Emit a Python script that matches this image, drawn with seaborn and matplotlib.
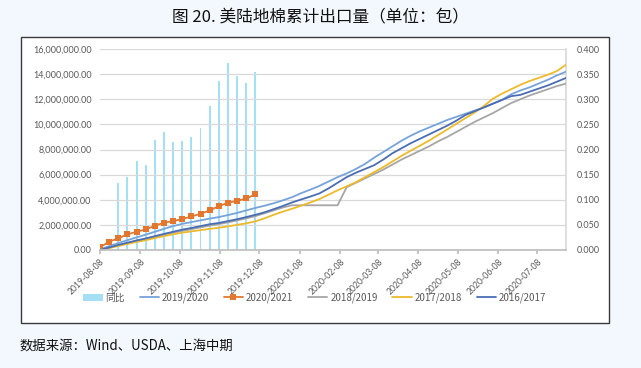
import pandas as pd
import seaborn as sns
import matplotlib.pyplot as plt
import matplotlib.dates as mdates
from matplotlib.patches import Rectangle
from matplotlib.ticker import FuncFormatter
import numpy as np

sns.set_theme(style='white')
plt.rcParams['font.family'] = ['Noto Sans CJK SC', 'DejaVu Sans']

# weekly points starting 2019-08-08 (52 weeks)
weeks = pd.date_range('2019-08-08', periods=52, freq='7D')
month_ticks = pd.to_datetime(['2019-08-08', '2019-09-08', '2019-10-08', '2019-11-08',
                              '2019-12-08', '2020-01-08', '2020-02-08', '2020-03-08',
                              '2020-04-08', '2020-05-08', '2020-06-08', '2020-07-08'])

# cumulative exports, million bales
s2019_2020 = [0.05, 0.30, 0.55, 0.78, 1.00, 1.22, 1.45, 1.68, 1.90, 2.08,
              2.22, 2.36, 2.50, 2.62, 2.78, 2.95, 3.15, 3.35, 3.52, 3.72,
              3.95, 4.20, 4.52, 4.80, 5.10, 5.45, 5.80, 6.10, 6.45, 6.85,
              7.35, 7.80, 8.25, 8.70, 9.10, 9.45, 9.75, 10.05, 10.35, 10.60,
              10.85, 11.10, 11.35, 11.65, 11.95, 12.40, 12.70, 12.95, 13.25, 13.55,
              13.90, 14.20]
s2016_2017 = [0.00, 0.20, 0.40, 0.58, 0.76, 0.92, 1.10, 1.28, 1.45, 1.62,
              1.75, 1.90, 2.05, 2.15, 2.30, 2.45, 2.62, 2.80, 3.00, 3.25,
              3.50, 3.78, 4.02, 4.25, 4.50, 4.90, 5.35, 5.80, 6.15, 6.45,
              6.75, 7.20, 7.70, 8.10, 8.50, 8.85, 9.20, 9.55, 9.90, 10.30,
              10.75, 11.05, 11.35, 11.65, 11.95, 12.25, 12.35, 12.60, 12.85, 13.10,
              13.40, 13.70]
s2017_2018 = [0.00, 0.15, 0.32, 0.48, 0.64, 0.78, 0.95, 1.10, 1.25, 1.38,
              1.48, 1.58, 1.68, 1.77, 1.88, 2.00, 2.12, 2.28, 2.52, 2.80,
              3.05, 3.28, 3.52, 3.78, 4.05, 4.40, 4.75, 5.07, 5.40, 5.80,
              6.20, 6.60, 7.05, 7.50, 7.90, 8.30, 8.70, 9.15, 9.60, 10.05,
              10.50, 10.95, 11.45, 12.05, 12.45, 12.80, 13.15, 13.45, 13.70, 13.95,
              14.25, 14.75]
s2018_2019 = [0.00, 0.18, 0.36, 0.54, 0.72, 0.88, 1.05, 1.22, 1.38, 1.52,
              1.66, 1.80, 1.94, 2.06, 2.20, 2.35, 2.52, 2.70, 2.92, 3.15,
              3.38, 3.56, 3.56, 3.56, 3.56, 3.56, 3.56, 5.00, 5.35, 5.70,
              6.05, 6.40, 6.80, 7.20, 7.55, 7.90, 8.25, 8.65, 9.00, 9.40,
              9.80, 10.20, 10.55, 10.90, 11.30, 11.70, 12.00, 12.30, 12.55, 12.80,
              13.05, 13.25]
s2020_2021 = [0.21, 0.66, 0.93, 1.24, 1.45, 1.64, 1.93, 2.17, 2.30, 2.46,
              2.67, 2.88, 3.15, 3.49, 3.76, 3.91, 4.10, 4.42]
# year-on-year ratio (right axis)
yoy = [np.nan, np.nan, 0.133, 0.146, 0.177, 0.170, 0.219, 0.235, 0.214, 0.217,
       0.224, 0.243, 0.287, 0.337, 0.372, 0.347, 0.333, 0.355]

bg = '#F3F8FE'
fig = plt.figure(figsize=(6.41, 3.68), dpi=100, facecolor=bg)
fig.patches.append(Rectangle((0.0328, 0.1223), 0.917, 0.777, transform=fig.transFigure,
                             facecolor='white', edgecolor='#3a3a3a', lw=1.0, zorder=-5))

ax = fig.add_axes([0.156, 0.3207, 0.727, 0.546])
ax2 = ax.twinx()
ax.set_zorder(ax2.get_zorder() + 1)
ax.patch.set_visible(False)
ax2.patch.set_visible(False)

# bars on right axis
ax2.bar(weeks[:len(yoy)], yoy, width=1.5, color='#A4DFF6', edgecolor='none',
        linewidth=0, label='同比')

df = pd.DataFrame({'date': weeks, '2019/2020': np.array(s2019_2020) * 1e6,
                   '2018/2019': np.array(s2018_2019) * 1e6,
                   '2017/2018': np.array(s2017_2018) * 1e6,
                   '2016/2017': np.array(s2016_2017) * 1e6})
df21 = pd.DataFrame({'date': weeks[:len(s2020_2021)], 'v': np.array(s2020_2021) * 1e6})

sns.lineplot(data=df, x='date', y='2019/2020', ax=ax, color='#76A3DA', lw=1.3, label='2019/2020')
sns.lineplot(data=df21, x='date', y='v', ax=ax, color='#E4772F', lw=1.3, marker='s',
             markersize=4.8, markeredgewidth=0, label='2020/2021')
sns.lineplot(data=df, x='date', y='2018/2019', ax=ax, color='#A6A6A6', lw=1.3, label='2018/2019')
sns.lineplot(data=df, x='date', y='2017/2018', ax=ax, color='#EDBA2C', lw=1.3, label='2017/2018')
sns.lineplot(data=df, x='date', y='2016/2017', ax=ax, color='#4A6DB3', lw=1.3, label='2016/2017')

ax.set_xlim(weeks[0], weeks[-1])
ax.set_ylim(0, 16e6)
ax2.set_ylim(0, 0.4)
ax.set_yticks(np.arange(0, 16e6 + 1, 2e6))
ax2.set_yticks(np.arange(0, 0.401, 0.05))
ax.yaxis.set_major_formatter(FuncFormatter(lambda v, p: f'{v:,.2f}'))
ax2.yaxis.set_major_formatter(FuncFormatter(lambda v, p: f'{v:.3f}'))
ax.set_xticks(month_ticks)
ax.xaxis.set_major_formatter(mdates.DateFormatter('%Y-%m-%d'))
ax.set_xlabel('')
ax.set_ylabel('')
ax.grid(axis='y', color='#D9D9D9', lw=0.9)
ax.set_axisbelow(True)

for a in (ax, ax2):
    for s in a.spines.values():
        s.set_visible(False)
ax.spines['bottom'].set_visible(True)
ax.spines['bottom'].set_color('#BFBFBF')
ax2.spines['right'].set_visible(True)
ax2.spines['right'].set_color('#D9D9D9')

ax.tick_params(axis='y', length=0, pad=6, labelsize=6.5, labelcolor='#595959')
ax2.tick_params(axis='y', length=0, pad=8, labelsize=6.5, labelcolor='#595959')
ax.tick_params(axis='x', length=3, color='#BFBFBF', bottom=True, labelsize=6.2,
               labelcolor='#595959', pad=2)
plt.setp(ax.get_xticklabels(), rotation=45, ha='right', va='top',
         rotation_mode='anchor', fontfamily='Lato')
plt.setp(ax.get_yticklabels() + ax2.get_yticklabels(), fontfamily='Lato')

# legend
h1, l1 = ax2.get_legend_handles_labels()
h2, l2 = ax.get_legend_handles_labels()
ax.get_legend().remove()
fig.legend(h1 + h2, l1 + l2, loc='center', bbox_to_anchor=(0.491, 0.19), ncol=6,
           frameon=False, fontsize=7, handlelength=2.0, columnspacing=1.5,
           handletextpad=0.3, labelcolor='#595959')

fig.text(0.5, 0.951, '图 20. 美陆地棉累计出口量（单位：包）', ha='center', va='center',
         fontsize=12, color='#111111')
fig.text(0.031, 0.057, '数据来源：Wind、USDA、上海中期', ha='left', va='center',
         fontsize=9.6, color='#111111')

fig.savefig('out.png', dpi=100, facecolor=bg)
